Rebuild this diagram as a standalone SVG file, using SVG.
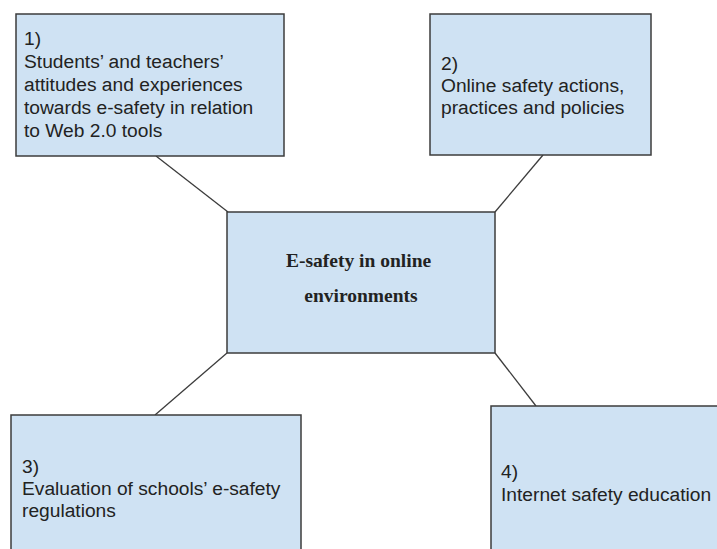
<svg xmlns="http://www.w3.org/2000/svg" width="717" height="549" viewBox="0 0 717 549">
  <style>
    .box { fill: #cfe2f3; stroke: #3c3c3c; stroke-width: 1.5; }
    .link { stroke: #3c3c3c; stroke-width: 1.3; fill: none; }
    .lbl { font-family: "Liberation Sans", Arial, sans-serif; font-size: 19.2px; fill: #222; }
    .hub { font-family: "Liberation Serif", "Times New Roman", serif; font-size: 19.5px; font-weight: bold; fill: #222; text-anchor: middle; }
  </style>
  <rect width="717" height="549" fill="#ffffff"/>

  <!-- connectors from the central topic to each theme -->
  <g id="connectors">
    <line class="link" x1="156" y1="156" x2="228" y2="212"/>
    <line class="link" x1="543" y1="155" x2="495" y2="212"/>
    <line class="link" x1="227" y1="353" x2="155" y2="415"/>
    <line class="link" x1="495" y1="353" x2="536" y2="406"/>
  </g>

  <g id="theme1">
    <rect class="box" x="16" y="14" width="268" height="142"/>
    <text class="lbl">
      <tspan x="24" y="45">1)</tspan>
      <tspan x="24" y="68">Students’ and teachers’</tspan>
      <tspan x="24" y="91">attitudes and experiences</tspan>
      <tspan x="24" y="114">towards e-safety in relation</tspan>
      <tspan x="24" y="137">to Web 2.0 tools</tspan>
    </text>
  </g>

  <g id="theme2">
    <rect class="box" x="430" y="14" width="221" height="141"/>
    <text class="lbl">
      <tspan x="441" y="70">2)</tspan>
      <tspan x="441" y="92">Online safety actions,</tspan>
      <tspan x="441" y="114">practices and policies</tspan>
    </text>
  </g>

  <g id="hub">
    <rect class="box" x="227" y="212" width="268" height="141"/>
    <text class="hub">
      <tspan x="361" y="267">E-safety in online</tspan>
      <tspan x="361" y="302">environments</tspan>
    </text>
  </g>

  <g id="theme3">
    <rect class="box" x="11" y="415" width="290" height="160"/>
    <text class="lbl">
      <tspan x="22" y="473">3)</tspan>
      <tspan x="22" y="495">Evaluation of schools’ e-safety</tspan>
      <tspan x="22" y="517">regulations</tspan>
    </text>
  </g>

  <g id="theme4">
    <rect class="box" x="491" y="406" width="260" height="170"/>
    <text class="lbl">
      <tspan x="501" y="478">4)</tspan>
      <tspan x="501" y="501">Internet safety education</tspan>
    </text>
  </g>
</svg>
